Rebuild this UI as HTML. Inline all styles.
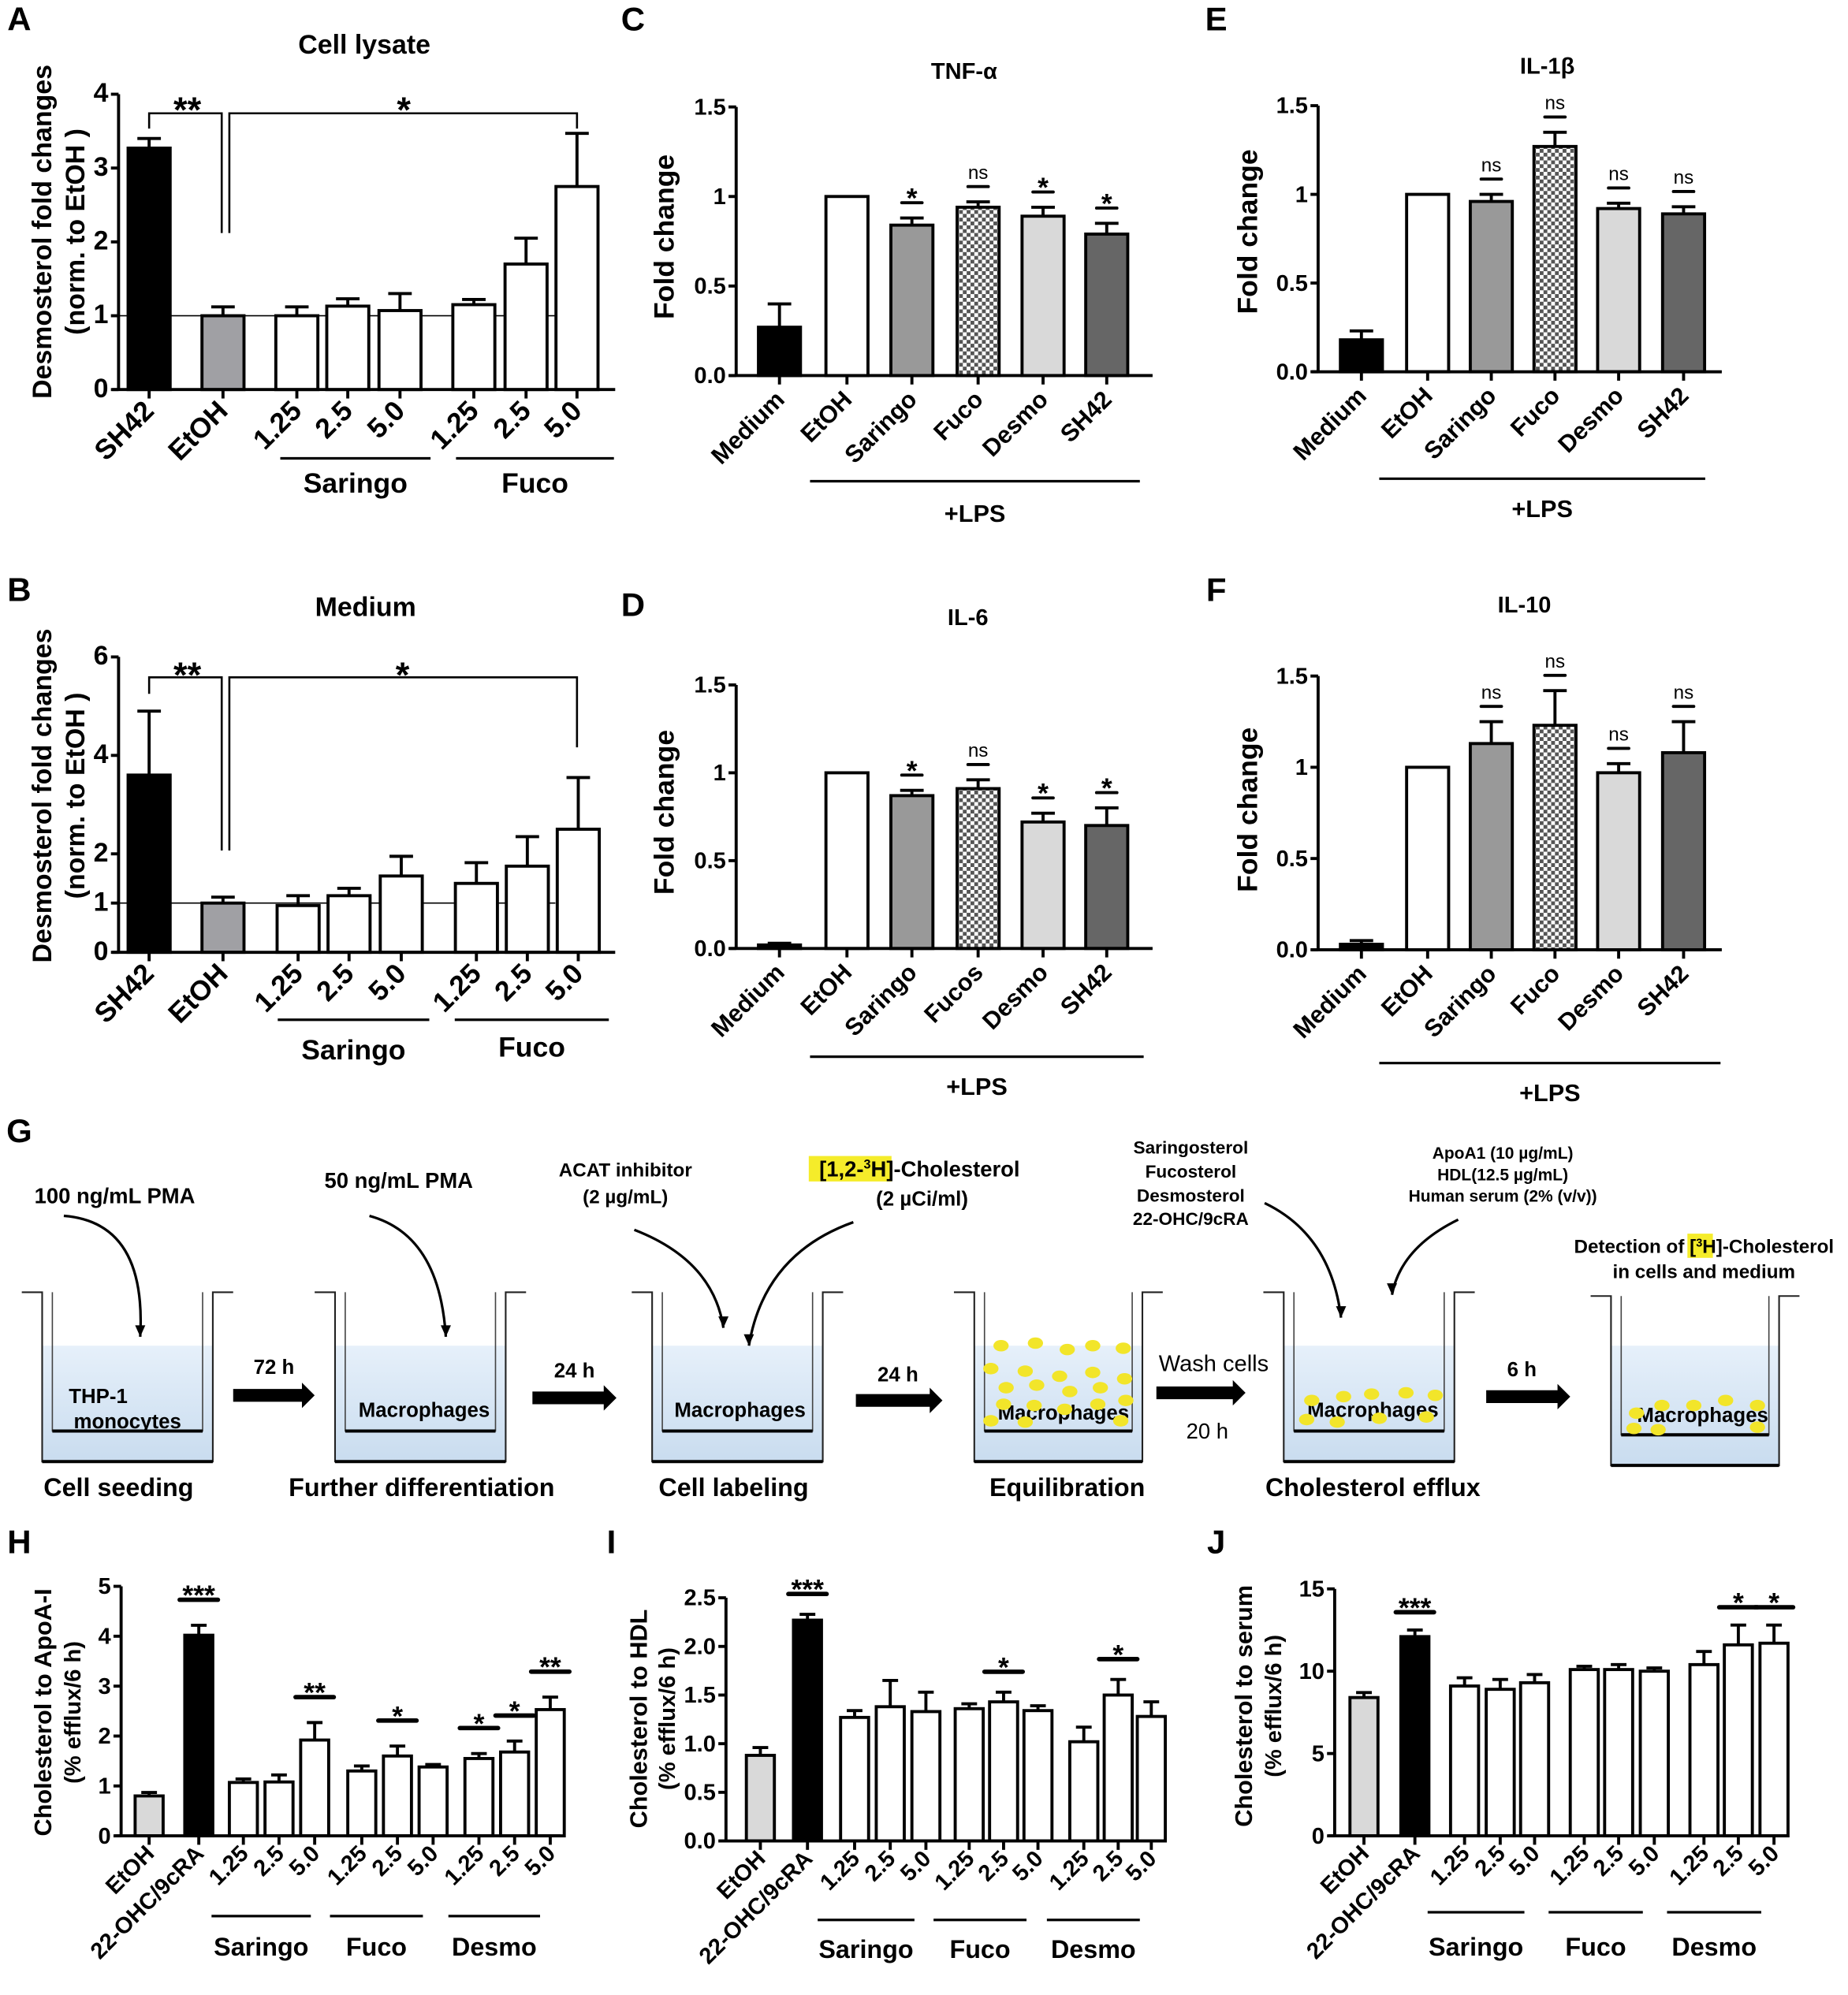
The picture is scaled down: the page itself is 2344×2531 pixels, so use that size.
<!DOCTYPE html>
<html><head><meta charset="utf-8"><style>
html,body{margin:0;padding:0;background:#fff;}
svg{display:block;font-family:"Liberation Sans",Arial,sans-serif;font-weight:bold;}
</style></head><body>
<svg id="fig" xmlns="http://www.w3.org/2000/svg" width="2344" height="2531" viewBox="0 0 1451 1567">
<defs>
<pattern id="checker" width="6" height="6" patternUnits="userSpaceOnUse">
<rect width="6" height="6" fill="#fff"/><rect width="3" height="3" fill="#555"/><rect x="3" y="3" width="3" height="3" fill="#555"/>
</pattern>
<linearGradient id="liq" x1="0" y1="0" x2="0" y2="1"><stop offset="0" stop-color="#e6f0fa"/><stop offset="1" stop-color="#c9dcef"/></linearGradient>
</defs>
<g id="root"></g>
</svg>
<script>
// ---------- data ----------
const aCats=["SH42","EtOH","1.25","2.5","5.0","1.25","2.5","5.0"];
const aVals=[3.27,1.0,1.0,1.13,1.07,1.15,1.7,2.75];
const aErrs=[0.13,0.12,0.12,0.1,0.23,0.07,0.35,0.72];
const aTicks=[0,1,2,3,4];
const bCats=["SH42","EtOH","1.25","2.5","5.0","1.25","2.5","5.0"];
const bVals=[3.6,1.0,0.95,1.15,1.55,1.4,1.75,2.5];
const bErrs=[1.3,0.12,0.2,0.15,0.4,0.42,0.6,1.05];
const bTicks=[0,1,2,4,6];
const cCats=["Medium","EtOH","Saringo","Fuco","Desmo","SH42"];
const cVals=[0.27,1.0,0.84,0.94,0.89,0.79];
const cErrs=[0.13,0,0.04,0.03,0.05,0.06];
const cSigs=["","","*","ns","*","*"];
const dCats=["Medium","EtOH","Saringo","Fucos","Desmo","SH42"];
const dVals=[0.02,1.0,0.87,0.91,0.72,0.70];
const dErrs=[0.01,0,0.03,0.05,0.05,0.1];
const dSigs=["","","*","ns","*","*"];
const eCats=["Medium","EtOH","Saringo","Fuco","Desmo","SH42"];
const eVals=[0.18,1.0,0.96,1.27,0.92,0.89];
const eErrs=[0.05,0,0.04,0.08,0.03,0.04];
const eSigs=["","","ns","ns","ns","ns"];
const fCats=["Medium","EtOH","Saringo","Fuco","Desmo","SH42"];
const fVals=[0.03,1.0,1.13,1.23,0.97,1.08];
const fErrs=[0.02,0,0.12,0.19,0.05,0.17];
const fSigs=["","","ns","ns","ns","ns"];
const cfTicks=[0,0.5,1,1.5];
const hCats=["EtOH","22-OHC/9cRA","1.25","2.5","5.0","1.25","2.5","5.0","1.25","2.5","5.0"];
const hVals=[0.8,4.02,1.07,1.08,1.92,1.3,1.6,1.38,1.55,1.68,2.53];
const hErrs=[0.07,0.2,0.07,0.14,0.35,0.1,0.2,0.05,0.1,0.22,0.25];
const hSigs=["","***","","","**","","*","","*","*","**"];
const hTicks=[0,1,2,3,4,5];
const iVals=[0.88,2.27,1.27,1.38,1.33,1.36,1.43,1.34,1.02,1.5,1.28];
const iErrs=[0.08,0.06,0.07,0.27,0.2,0.05,0.1,0.05,0.15,0.16,0.15];
const iSigs=["","***","","","","","*","","","*",""];
const iTicks=[0,0.5,1,1.5,2,2.5];
const jVals=[8.4,12.1,9.1,8.9,9.3,10.1,10.1,10.0,10.4,11.6,11.7];
const jErrs=[0.3,0.4,0.5,0.6,0.5,0.2,0.3,0.2,0.8,1.2,1.1];
const jSigs=["","***","","","","","","","","*","*"];
const jTicks=[0,5,10,15];

const NS="http://www.w3.org/2000/svg";
const root=document.getElementById('root');
function mk(tag,attrs,parent){const e=document.createElementNS(NS,tag);for(const k in attrs)e.setAttribute(k,attrs[k]);(parent||root).appendChild(e);return e;}
function txt(x,y,s,size,anchor,parent,extra){const t=mk('text',Object.assign({x:x,y:y,'font-size':size,'text-anchor':anchor||'middle'},extra||{}),parent);t.textContent=s;return t;}

function chart(name,cfg,cats,vals,errs,fills,sigs,ticks){
  const g=mk('g',{});
  
  
  const ys=v=>cfg.y0-(v-0)/(cfg.vmax)*(cfg.y0-cfg.ytop);
  const xs=i=>cfg.centers[i];
  vals.forEach((v,i)=>{
    const cx=xs(i),top=ys(v),et=ys(v+errs[i]);
    if(errs[i]>0){
      const el=mk('path',{d:`M${cx},${top} V${et} M${cx-cfg.bw*0.28},${et} H${cx+cfg.bw*0.28}`,stroke:'#000','stroke-width':2.4,fill:'none'},g);
      
      
    }
    const r=mk('rect',{x:cx-cfg.bw/2,y:top,width:cfg.bw,height:cfg.y0-top,fill:fills[i],stroke:'#000','stroke-width':2.4},g);
    
    
    if(sigs&&sigs[i]){
      const ly=et-cfg.sigGap;
      const sl=mk('line',{x1:cx-cfg.sigW/2,x2:cx+cfg.sigW/2,y1:ly,y2:ly,stroke:'#000','stroke-width':cfg.sigSW||2.4,'stroke-linecap':'round'},g);
      
      
      const st=txt(cx,ly-(sigs[i]==='ns'?6:4),sigs[i],sigs[i]==='ns'?15:cfg.starFs||22,'middle',g,{'font-weight':sigs[i]==='ns'?'normal':'bold'});
      if(sigs[i]!=='ns')st.setAttribute('dy','8');
      
      
    }
  });
  const yax=mk('line',{x1:cfg.ax,x2:cfg.ax,y1:cfg.y0,y2:cfg.ytop,stroke:'#000','stroke-width':2.4},g);
  
  
  const xax=mk('line',{x1:cfg.ax-5,x2:cfg.xend,y1:cfg.y0,y2:cfg.y0,stroke:'#000','stroke-width':2.4},g);
  
  
  ticks.forEach(t=>{
    const y=ys(t);
    mk('line',{x1:cfg.ax-6,x2:cfg.ax,y1:y,y2:y,stroke:'#000','stroke-width':2.4},g);
    const tl=txt(cfg.ax-8,y+6,cfg.fmt(t),cfg.tickFs,'end',g);
    
    
  });
  cats.forEach((c,i)=>{
    const cx=xs(i);
    mk('line',{x1:cx,x2:cx,y1:cfg.y0,y2:cfg.y0+7,stroke:'#000','stroke-width':2.4},g);
    const tx=cx+5,ty=cfg.y0+cfg.lblOff;
    const l=txt(tx,ty,c,cfg.lblFs,'end',g,{transform:`rotate(-45 ${tx} ${ty})`});
    
    
  });
  if(cfg.refLine){const rl=mk('line',{x1:cfg.ax,x2:cfg.refLine,y1:ys(1),y2:ys(1),stroke:'#000','stroke-width':1},g);g.insertBefore(rl,g.firstChild);}
  return {g,ys,xs};
}
const f0=t=>String(t), f1=t=>t===1?'1':t.toFixed(1);

const A=chart('chart-a-cell-lysate',{ax:93,y0:306,ytop:74,vmax:4,xend:483,centers:[117,175,233,273,314,372,413,453],bw:33,tickFs:21,fmt:f0,lblFs:22,lblOff:18,refLine:436},aCats,aVals,aErrs,['#000','#a0a0a4','#fff','#fff','#fff','#fff','#fff','#fff'],null,aTicks);
const B=chart('chart-b-medium',{ax:93,y0:748,ytop:516,vmax:6,xend:483,centers:[117,175,234,274,315,374,414,454],bw:33,tickFs:21,fmt:f0,lblFs:22,lblOff:18,refLine:436},bCats,bVals,bErrs,['#000','#a0a0a4','#fff','#fff','#fff','#fff','#fff','#fff'],null,bTicks);
const cfFill=['#000','#fff','#999','url(#checker)','#d9d9d9','#666'];
const C=chart('chart-c-tnf',{ax:578,y0:295,ytop:84,vmax:1.5,xend:905,centers:[612,665,716,768,819,869],bw:33,tickFs:18,fmt:f1,lblFs:19,lblOff:20,sigGap:12,sigW:16,starFs:22},cCats,cVals,cErrs,cfFill,cSigs,cfTicks);
const D=chart('chart-d-il6',{ax:578,y0:745,ytop:538,vmax:1.5,xend:905,centers:[612,665,716,768,819,869],bw:33,tickFs:18,fmt:f1,lblFs:19,lblOff:20,sigGap:12,sigW:16,starFs:22},dCats,dVals,dErrs,cfFill,dSigs,cfTicks);
const E=chart('chart-e-il1b',{ax:1035,y0:292,ytop:83,vmax:1.5,xend:1352,centers:[1069,1121,1171,1221,1271,1322],bw:33,tickFs:18,fmt:f1,lblFs:19,lblOff:20,sigGap:12,sigW:16},eCats,eVals,eErrs,cfFill,eSigs,cfTicks);
const F=chart('chart-f-il10',{ax:1035,y0:746,ytop:531,vmax:1.5,xend:1352,centers:[1069,1121,1171,1221,1271,1322],bw:33,tickFs:18,fmt:f1,lblFs:19,lblOff:20,sigGap:12,sigW:16},fCats,fVals,fErrs,cfFill,fSigs,cfTicks);
const hfill=['#d9d9d9','#000','#fff','#fff','#fff','#fff','#fff','#fff','#fff','#fff','#fff'];
chart('chart-h-apoa1',{ax:95,y0:1442,ytop:1246,vmax:5,xend:440,centers:[117,156,191,219,247,284,312,340,376,404,432],bw:22,tickFs:18,fmt:f0,lblFs:18,lblOff:15,sigGap:20,sigW:30,sigSW:3.5},hCats,hVals,hErrs,hfill,hSigs,hTicks);
chart('chart-i-hdl',{ax:570,y0:1446,ytop:1255,vmax:2.5,xend:915,centers:[597,634,671,699,727,761,788,815,851,878,904],bw:22,tickFs:18,fmt:t=>t.toFixed(1),lblFs:18,lblOff:15,sigGap:16,sigW:30,sigSW:3.5},hCats,iVals,iErrs,hfill,iSigs,iTicks);
chart('chart-j-serum',{ax:1048,y0:1442,ytop:1248,vmax:15,xend:1405,centers:[1071,1111,1150,1178,1205,1244,1271,1299,1338,1365,1393],bw:22,tickFs:18,fmt:f0,lblFs:18,lblOff:15,sigGap:14,sigW:30,sigSW:3.5},hCats,jVals,jErrs,hfill,jSigs,jTicks);

function bracket(ch,y,lft,x1,x2,x3,x4,dy1,dy2){
  const p=mk('path',{d:`M${x1},${dy1} V${y} H${x2} V${dy2} M${x3},${dy2} V${y} H${x4} V${lft}`,fill:'none',stroke:'#000','stroke-width':1.6});
  
  
}
bracket(A,89,101,117,174,180,453,101,183);
bracket(B,532,587,117,174,180,453,545,668);
[[147,96,'**'],[317,96,'*'],[147,540,'**'],[316,540,'*']].forEach(s=>{const t=txt(s[0],s[1],s[2],28,'middle');});

[['A',15,24],['B',15,472],['C',497,24],['D',497,484],['E',955,24],['F',955,472],['G',15,897],['H',15,1220],['I',480,1220],['J',955,1220]].forEach(l=>{const t=txt(l[1],l[2],l[0],26,'middle');});
[['Cell lysate',286,42,21],['Medium',287,484,21],['TNF-α',757,62,18],['IL-6',760,491,18],['IL-1β',1215,58,18],['IL-10',1197,481,18]].forEach(l=>{const t=txt(l[1],l[2],l[0],l[3],'middle');});
function ylab(s,x,y,size){const t=txt(x,y,s,size,'middle',root,{transform:`rotate(-90 ${x} ${y})`});}
ylab('Desmosterol fold changes',40,182,21);ylab('(norm. to EtOH )',66,182,21);
ylab('Desmosterol fold changes',40,625,21);ylab('(norm. to EtOH )',66,625,21);
ylab('Fold change',529,186,22);ylab('Fold change',529,638,22);ylab('Fold change',987,182,22);ylab('Fold change',987,636,22);
ylab('Cholesterol to ApoA-I',40,1345,19);ylab('(% efflux/6 h)',63,1345,18);
ylab('Cholesterol to HDL',508,1350,19);ylab('(% efflux/6 h)',530,1350,18);
ylab('Cholesterol to  serum',983,1340,19);ylab('(% efflux/6 h)',1006,1340,18);
function grp(s,x1,x2,ly,ty,size){const l=mk('line',{x1:x1,x2:x2,y1:ly,y2:ly,stroke:'#000','stroke-width':2});const t=txt((x1+x2)/2,ty,s,size,'middle');}
grp('Saringo',220,338,360,387,22);grp('Fuco',358,482,360,387,22);
grp('Saringo',218,337,801,832,22);grp('Fuco',357,478,801,830,22);
grp('+LPS',636,895,378,410,19);grp('+LPS',636,898,830,860,19);grp('+LPS',1083,1339,376,406,19);grp('+LPS',1083,1351,835,865,19);
grp('Saringo',166,244,1505,1536,20);grp('Fuco',259,332,1505,1536,20);grp('Desmo',352,424,1505,1536,20);
grp('Saringo',642,718,1508,1538,20);grp('Fuco',733,806,1508,1538,20);grp('Desmo',822,895,1508,1538,20);
grp('Saringo',1121,1197,1502,1536,20);grp('Fuco',1216,1290,1502,1536,20);grp('Desmo',1309,1383,1502,1536,20);

// ---------- panel G ----------
const G=mk('g',{});


const wells=[[33,167,'Cell seeding'],[263,397,'Further differentiation'],[512,646,'Cell labeling'],[765,897,'Equilibration'],[1008,1142,'Cholesterol efflux'],[1265,1397,'']];
const wellLbl=[[['THP-1','monocytes'],[77,100],[1102,1122]],[['Macrophages'],[333],[1113]],[['Macrophages'],[581],[1113]],[['Macrophages'],[835],[1115]],[['Macrophages'],[1078],[1113]],[['Macrophages'],[1337],[1117]]];
const lblX=[93,331,576,838,1078];
wells.forEach((w,i)=>{
  const [l,r,lab]=w, top=1015+(i===5?3:0), bot=1148+(i===5?3:0);
  const wg=mk('g',{},G);
  
  
  mk('rect',{x:l,y:1057,width:r-l,height:bot-1057,fill:'url(#liq)'},wg);
  mk('path',{d:`M${l-16},${top} H${l} V${bot} H${r} V${top} H${r+16}`,fill:'none',stroke:'#222','stroke-width':1.3},wg);
  mk('path',{d:`M${l+8},${top} V${bot-24} H${r-8} V${top}`,fill:'none',stroke:'#444','stroke-width':1},wg);
  mk('line',{x1:l+8,x2:r-8,y1:bot-24,y2:bot-24,stroke:'#000','stroke-width':2.5},wg);
  mk('line',{x1:l,x2:r,y1:bot,y2:bot,stroke:'#000','stroke-width':2.5},wg);
  const wl=wellLbl[i];
  wl[0].forEach((s,k)=>{txt(wl[1][k]||wl[1][0],wl[2][k],s,16,'middle',wg);});
  if(lab){const t=txt(lblX[i],1175,lab,20,'middle',G,{'font-weight':'bold'});}
});
const dots4=[[786,1057],[813,1055],[838,1060],[858,1057],[882,1059],[778,1075],[805,1077],[832,1081],[858,1078],[883,1083],[790,1090],[814,1088],[840,1093],[864,1090],[788,1103],[812,1104],[836,1107],[862,1103],[884,1100],[778,1116],[805,1117],[880,1116]];
const dots5=[[1030,1100],[1055,1097],[1077,1095],[1104,1094],[1127,1096],[1026,1115],[1050,1117],[1083,1114],[1120,1113]];
const dots6=[[1285,1110],[1305,1104],[1330,1104],[1355,1100],[1380,1104],[1283,1122],[1302,1123],[1380,1121]];
[dots4,dots5,dots6].forEach(ds=>ds.forEach(d=>{const e=mk('ellipse',{cx:d[0],cy:d[1],rx:6,ry:4.5,fill:'#f2e52a'},G);}));
[[183,247,1096,'72 h',215,1079],[418,484,1098,'24 h',451,1082],[672,740,1100,'24 h',705,1085],[908,978,1094,'',0,0],[1167,1233,1097,'6 h',1195,1081]].forEach(a=>{
  const p=mk('path',{d:`M${a[0]},${a[2]-5} H${a[1]-10} V${a[2]-10} L${a[1]},${a[2]} L${a[1]-10},${a[2]+10} V${a[2]+5} H${a[0]} Z`,fill:'#000'},G);
  
  
  if(a[3])txt(a[4],a[5],a[3],16,'middle',G);
});
txt(953,1077,'Wash cells',18,'middle',G,{'font-weight':'normal'});
txt(948,1130,'20 h',17,'middle',G,{'font-weight':'normal'});
[[50,955,115,960,110,1050],[290,955,345,970,350,1050],[498,966,560,990,568,1043],[670,960,600,985,588,1057],[993,945,1045,970,1053,1035],[1145,958,1100,980,1093,1017]].forEach(c=>{
  const p=mk('path',{d:`M${c[0]},${c[1]} Q${c[2]},${c[3]} ${c[4]},${c[5]}`,fill:'none',stroke:'#000','stroke-width':2},G);
  
  
  mk('path',{d:`M${c[4]-4},${c[5]-9} L${c[4]},${c[5]} L${c[4]+4},${c[5]-9} Z`,fill:'#000'},G);
});
[['100 ng/mL PMA',90,945,17],['50 ng/mL PMA',313,933,17],['ACAT inhibitor',491,924,15],['(2 µg/mL)',491,945,15],['(2 µCi/ml)',724,947,16],
 ['Saringosterol',935,906,14],['Fucosterol',935,925,14],['Desmosterol',935,944,14],['22-OHC/9cRA',935,962,14],
 ['ApoA1 (10 µg/mL)',1180,910,13],['HDL(12.5 µg/mL)',1180,927,13],['Human serum (2% (v/v))',1180,944,13],['in cells and medium',1338,1004,15]].forEach(t=>{const e=txt(t[1],t[2],t[0],t[3],'middle',G);});
mk('rect',{x:635,y:908,width:65,height:20,fill:'#f5ec2a'},G);
const ch=txt(722,924,'',17,'middle',G);
ch.innerHTML='[1,2-<tspan dy="-6" font-size="10">3</tspan><tspan dy="6">H]-Cholesterol</tspan>';
mk('rect',{x:1325,y:969,width:20,height:19,fill:'#f5ec2a'},G);
const det=txt(1338,984,'',15,'middle',G);
det.innerHTML='Detection of [<tspan dy="-5" font-size="9">3</tspan><tspan dy="5">H]-Cholesterol</tspan>';
</script>
</body></html>
